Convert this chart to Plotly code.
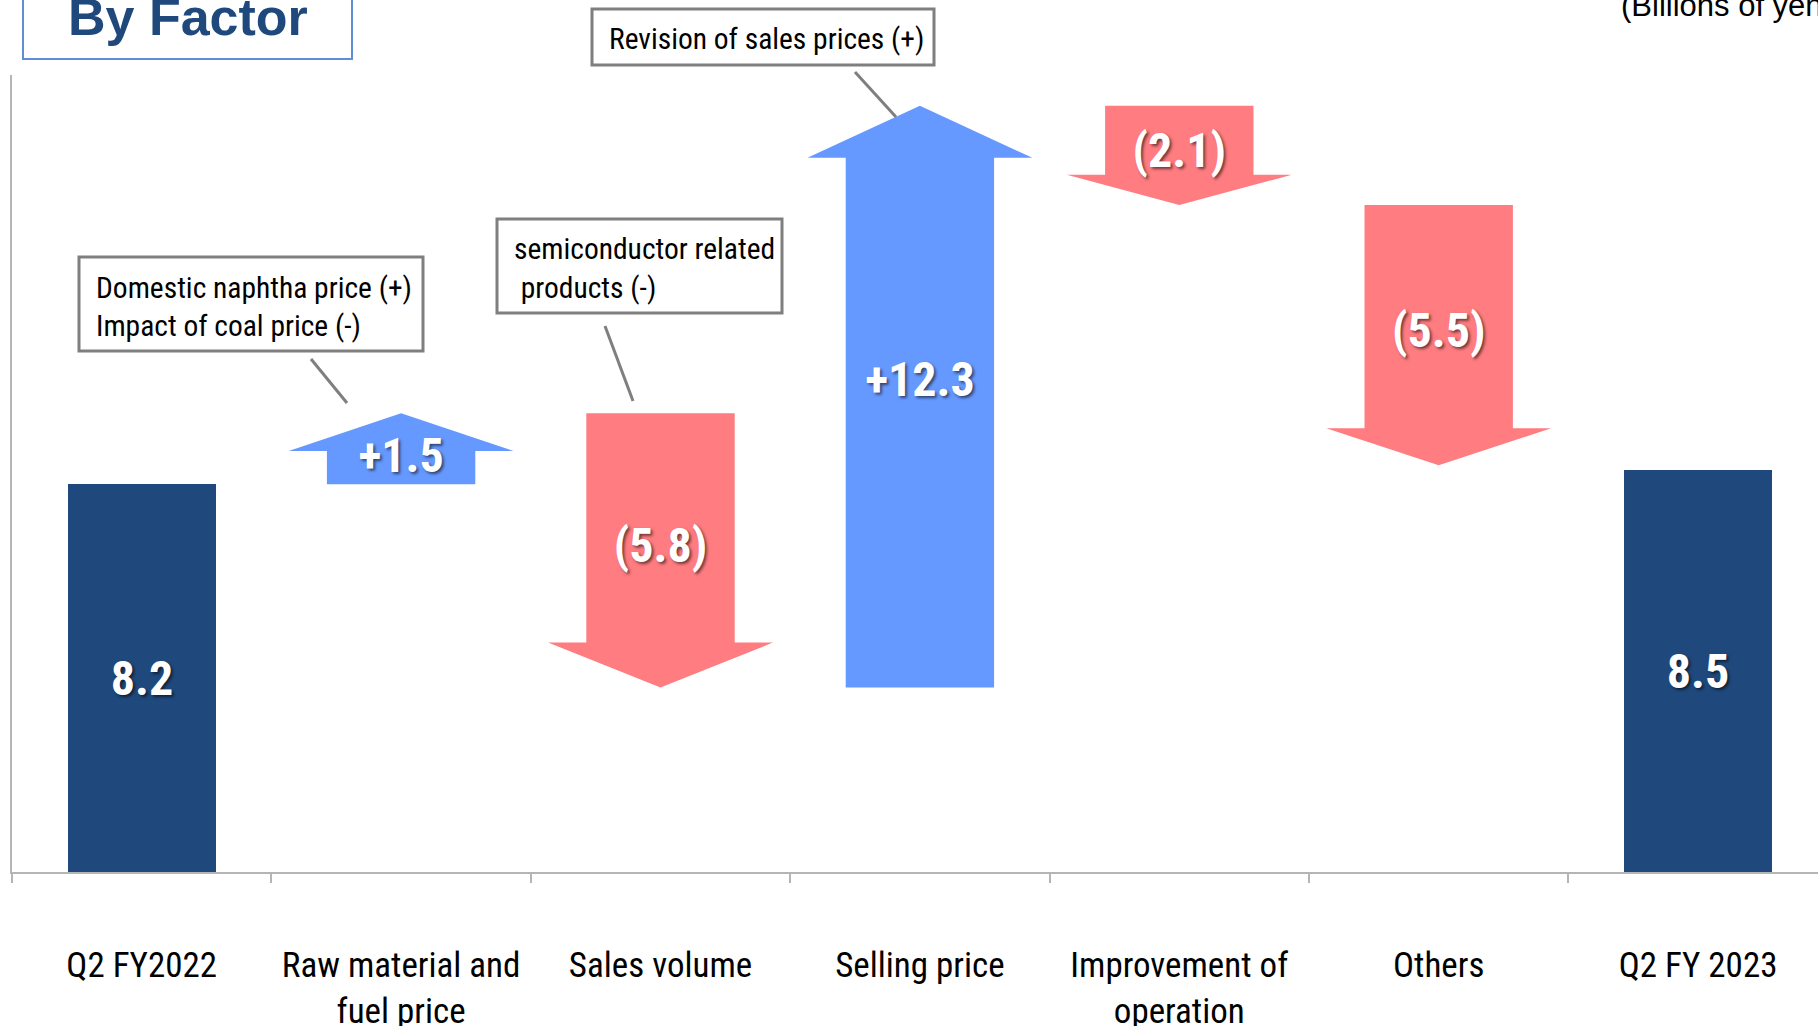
import plotly.graph_objects as go

# ---------------- data ----------------
categories = ["Q2 FY2022", "Raw material and<br>fuel price", "Sales volume", "Selling price",
              "Improvement of<br>operation", "Others", "Q2 FY 2023"]
start_value = 8.2
end_value = 8.5
deltas = [1.5, -5.8, 12.3, -2.1, -5.5]
delta_labels = ["+1.5", "(5.8)", "+12.3", "(2.1)", "(5.5)"]
total_labels = ["8.2", "8.5"]
callout_naphtha = ["Domestic naphtha price (+)", "Impact of coal price (-)"]
callout_semi = ["semiconductor related", " products (-)"]
callout_revision = ["Revision of sales prices (+)"]
title_text = "By Factor"
unit_text = "(Billions of yen)"

# ---------------- style ----------------
W, H = 1818, 1026
ML, MR, MT, MB = 12, 0, 75, 154
PX_PER_CAT = 259.4
X_RANGE = [-0.5, -0.5 + (W - ML - MR) / PX_PER_CAT]
Y_RANGE = [0, 16.85]
BODY_W = 0.572
HEAD_W = 0.867
HEAD_LEN = [0.8, 0.95, 1.1, 0.64, 0.78]
LABEL_SHIFT = [-0.25, 0.0, 0.27, 0.0, 0.0]   # vertical nudge of arrow labels
NAVY = "#1f497d"
BLUE = "#6699ff"
RED = "#ff7c80"
GRAY_AXIS = "#b5b5b5"
GRAY_BOX = "#7f7f7f"
NARROW = "Roboto Condensed, Liberation Sans Narrow, Arial Narrow, sans-serif"
REG = "Liberation Sans, Arial, sans-serif"
SHADOW = "2px 2px 3px rgba(0,0,0,0.55)"
NUM_SIZE = 48
CALLOUT_SIZE = 29.5


def px(xp):
    return (xp - ML) / (W - ML - MR)


def py(yp):
    return (H - MB - yp) / (H - MT - MB)


fig = go.Figure()

# total bars
fig.add_trace(go.Bar(
    x=[0, len(categories) - 1], y=[start_value, end_value], width=BODY_W,
    marker=dict(color=NAVY, line=dict(width=0)),
    text=total_labels, textposition="inside", insidetextanchor="middle", textangle=0,
    textfont=dict(family=NARROW, size=NUM_SIZE, color="white", weight="bold", shadow=SHADOW),
    hoverinfo="skip", showlegend=False, cliponaxis=False,
))

# delta arrows
level = start_value
label_y = []
for i, d in enumerate(deltas):
    k = i + 1
    b = level
    e = level + d
    s = 1 if d > 0 else -1
    n = e - s * HEAD_LEN[i]
    xs = [k - BODY_W / 2, k + BODY_W / 2, k + BODY_W / 2, k + HEAD_W / 2, k,
          k - HEAD_W / 2, k - BODY_W / 2, k - BODY_W / 2]
    ys = [b, b, n, n, e, n, n, b]
    fig.add_trace(go.Scatter(
        x=xs, y=ys, mode="lines", fill="toself",
        fillcolor=BLUE if d > 0 else RED, line=dict(width=0),
        hoverinfo="skip", showlegend=False,
    ))
    label_y.append((b + e) / 2 + LABEL_SHIFT[i])
    level = e

fig.add_trace(go.Scatter(
    x=list(range(1, len(deltas) + 1)), y=label_y, mode="text", text=delta_labels,
    textfont=dict(family=NARROW, size=NUM_SIZE, color="white", weight="bold", shadow=SHADOW),
    hoverinfo="skip", showlegend=False, cliponaxis=False,
))

shapes = []
annotations = []

# title box
shapes.append(dict(type="rect", xref="paper", yref="paper",
                   x0=px(23), x1=px(352), y0=py(59), y1=py(-12),
                   line=dict(color="#5f8fd3", width=2), fillcolor="white", layer="above"))
annotations.append(dict(xref="paper", yref="paper", x=px(66), y=py(17), xanchor="left",
                        yanchor="middle", text=title_text, showarrow=False,
                        font=dict(family=REG, size=52, color=NAVY, weight="bold")))
annotations.append(dict(xref="paper", yref="paper", x=px(1619), y=py(5), xanchor="left",
                        yanchor="middle", text=unit_text, showarrow=False,
                        font=dict(family=REG, size=31, color="black")))


def callout(x0, x1, y0, y1, lines, line_ys, tx, leader):
    shapes.append(dict(type="rect", xref="paper", yref="paper",
                       x0=px(x0), x1=px(x1), y0=py(y1), y1=py(y0),
                       line=dict(color=GRAY_BOX, width=3), fillcolor="white"))
    for t, ly in zip(lines, line_ys):
        annotations.append(dict(xref="paper", yref="paper", x=px(tx), y=py(ly),
                                xanchor="left", yanchor="middle", text=t, showarrow=False,
                                font=dict(family=NARROW, size=CALLOUT_SIZE, color="black")))
    (lx0, ly0), (lx1, ly1) = leader
    shapes.append(dict(type="line", xref="paper", yref="paper",
                       x0=px(lx0), y0=py(ly0), x1=px(lx1), y1=py(ly1),
                       line=dict(color=GRAY_BOX, width=3)))


callout(79, 423, 257, 351, callout_naphtha, [287.5, 326], 94, ((311, 359), (347, 403)))
callout(497, 782, 219, 313, callout_semi, [249, 287.5], 512, ((605, 326), (633, 401)))
callout(592, 934, 9, 65, callout_revision, [39.5], 607, ((855, 72), (896, 117)))

fig.update_layout(
    width=W, height=H,
    margin=dict(l=ML, r=MR, t=MT, b=MB, pad=0, autoexpand=False),
    paper_bgcolor="white", plot_bgcolor="white",
    shapes=shapes, annotations=annotations,
    bargap=0,
    xaxis=dict(
        range=X_RANGE, tickmode="array", tickvals=list(range(len(categories))),
        ticktext=categories, ticks="", showgrid=False, zeroline=False, automargin=False,
        showline=True, linecolor=GRAY_AXIS, linewidth=2,
        tickfont=dict(family=NARROW, size=35, color="black"),
        ticklabelstandoff=61,
        minor=dict(tickmode="array", tickvals=[i - 0.5 for i in range(len(categories) + 1)],
                   ticks="outside", ticklen=9, tickcolor=GRAY_AXIS, tickwidth=1.5, showgrid=False),
    ),
    yaxis=dict(
        range=Y_RANGE, showticklabels=False, ticks="", showgrid=False, zeroline=False,
        automargin=False, showline=True, linecolor=GRAY_AXIS, linewidth=2,
    ),
)

fig.write_html("out.html", config={"displayModeBar": False},
               post_script="document.body.style.margin='0';")
